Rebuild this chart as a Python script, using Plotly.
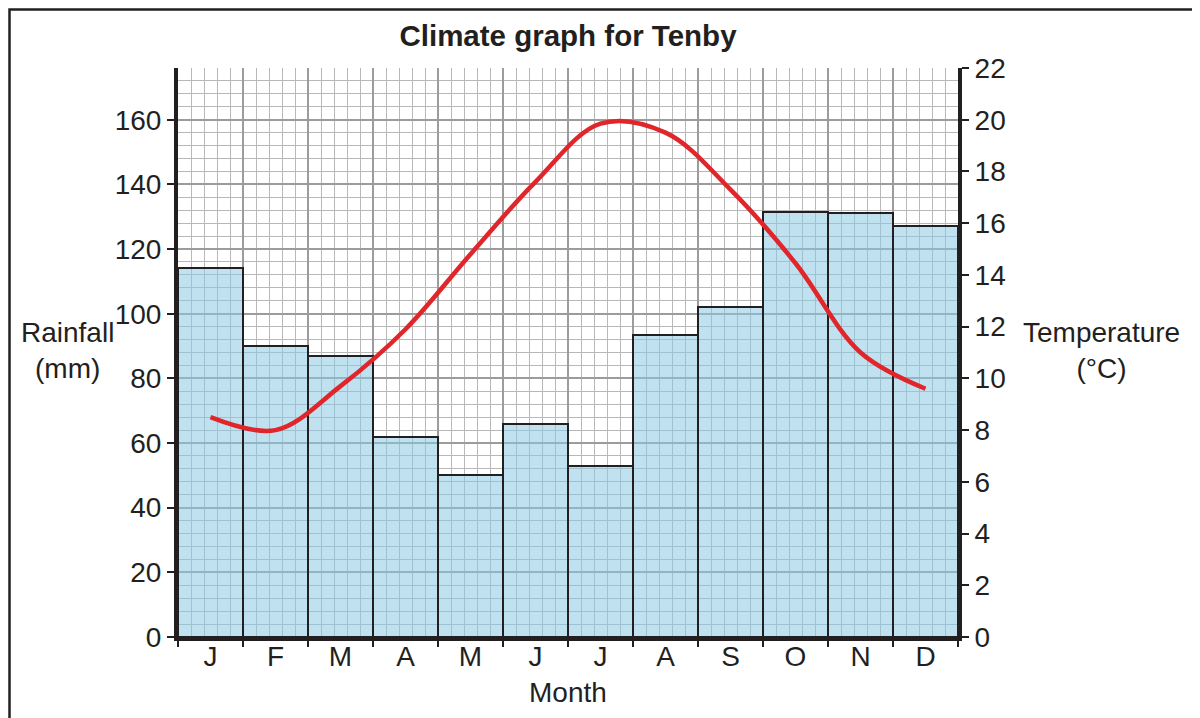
import plotly.graph_objects as go

months = ["J", "F", "M", "A", "M", "J", "J", "A", "S", "O", "N", "D"]
rainfall_mm = [114, 90, 87, 62, 50, 66, 53, 93.5, 102, 131.5, 131, 127]
temperature_c = [8.5, 8.0, 9.7, 11.9, 14.8, 17.6, 19.85, 19.5, 17.3, 14.45, 11.0, 9.6]
rain_ticks = [0, 20, 40, 60, 80, 100, 120, 140, 160]
temp_ticks = [0, 2, 4, 6, 8, 10, 12, 14, 16, 18, 20, 22]

W, H = 1200, 718
OFF = 8  # page body margin
L, R, T, B = 178, 958, 68, 637
pw, ph = R - L, B - T


def px(x):
    return (x - L) / pw


def py(y):
    return (B - y) / ph


centers = [i + 0.5 for i in range(len(months))]
bounds = list(range(len(months) + 1))
FONT = "Liberation Sans, Arial, Helvetica, sans-serif"
TXT = "#231f20"

fig = go.Figure()
fig.add_trace(go.Bar(
    x=centers, y=rainfall_mm, width=1.0,
    marker=dict(color="rgba(140,200,225,0.55)", line=dict(color="#231f20", width=2)),
    yaxis="y", xaxis="x", showlegend=False, hoverinfo="skip",
))
fig.add_trace(go.Scatter(
    x=centers, y=temperature_c, mode="lines",
    line=dict(color="#e1262b", width=4.5, shape="spline", smoothing=1.0),
    yaxis="y2", xaxis="x", showlegend=False,
))
fig.add_trace(go.Scatter(x=centers, y=rainfall_mm, mode="markers", marker=dict(opacity=0),
                         xaxis="x2", yaxis="y", showlegend=False, hoverinfo="skip"))

fig.update_layout(
    width=W, height=H,
    margin=dict(l=L - OFF, r=W - R + OFF, t=T - OFF, b=H - B + OFF),
    paper_bgcolor="white", plot_bgcolor="white",
    font=dict(family=FONT, size=28, color=TXT),
    bargap=0,
    title=dict(text="<b>Climate graph for Tenby</b>", x=px(568), xref="paper", xanchor="center",
               y=1 - (36 - OFF) / H, yanchor="middle", font=dict(size=29.5, color=TXT)),
    xaxis=dict(
        range=[0, 12], tickmode="array", tickvals=bounds, ticktext=[""] * len(bounds),
        ticks="outside", ticklen=6, tickwidth=1.5, tickcolor=TXT,
        showgrid=True, gridcolor="#9c9c9c", gridwidth=2,
        minor=dict(tickmode="linear", tick0=0, dtick=0.2, showgrid=True, gridcolor="#b8b8b8", gridwidth=1, ticks=""),
        showline=True, linecolor=TXT, linewidth=4, zeroline=False, fixedrange=True,
    ),
    xaxis2=dict(
        overlaying="x", matches="x", side="bottom", range=[0, 12],
        tickmode="array", tickvals=centers, ticktext=months,
        ticks="",
        showgrid=False, showline=False, zeroline=False,
        tickfont=dict(size=28, color=TXT),
    ),
    yaxis=dict(
        range=[0, 176], tickmode="array", tickvals=rain_ticks,
        ticks="outside", ticklen=7, tickwidth=1.5, tickcolor=TXT,
        showgrid=True, gridcolor="#9c9c9c", gridwidth=2,
        minor=dict(tickmode="linear", tick0=0, dtick=4, showgrid=True, gridcolor="#b8b8b8", gridwidth=1, ticks=""),
        showline=True, linecolor=TXT, linewidth=4, zeroline=False,
        tickfont=dict(size=28, color=TXT),
    ),
    yaxis2=dict(
        range=[0, 22], overlaying="y", side="right", tickmode="array", tickvals=temp_ticks,
        ticks="outside", ticklen=7, tickwidth=1.5, tickcolor=TXT,
        showgrid=False, showline=True, linecolor=TXT, linewidth=4, zeroline=False,
        tickfont=dict(size=28, color=TXT),
    ),
    annotations=[
        dict(text="Rainfall<br>(mm)", x=px(67), y=py(350), xref="paper", yref="paper",
             showarrow=False, xanchor="center", yanchor="middle", font=dict(size=28, color=TXT)),
        dict(text="Temperature<br>(°C)", x=px(1101), y=py(350), xref="paper", yref="paper",
             showarrow=False, xanchor="center", yanchor="middle", font=dict(size=28, color=TXT)),
        dict(text="Month", x=px(568), y=py(692), xref="paper", yref="paper",
             showarrow=False, xanchor="center", yanchor="middle", font=dict(size=28, color=TXT)),
    ],
    shapes=[
        dict(type="rect", xref="paper", yref="paper", x0=px(9.5), x1=px(1230), y0=py(750), y1=py(9.5),
             line=dict(color=TXT, width=2.5), fillcolor="rgba(0,0,0,0)", layer="below"),
    ],
)

fig.write_html("out.html")
